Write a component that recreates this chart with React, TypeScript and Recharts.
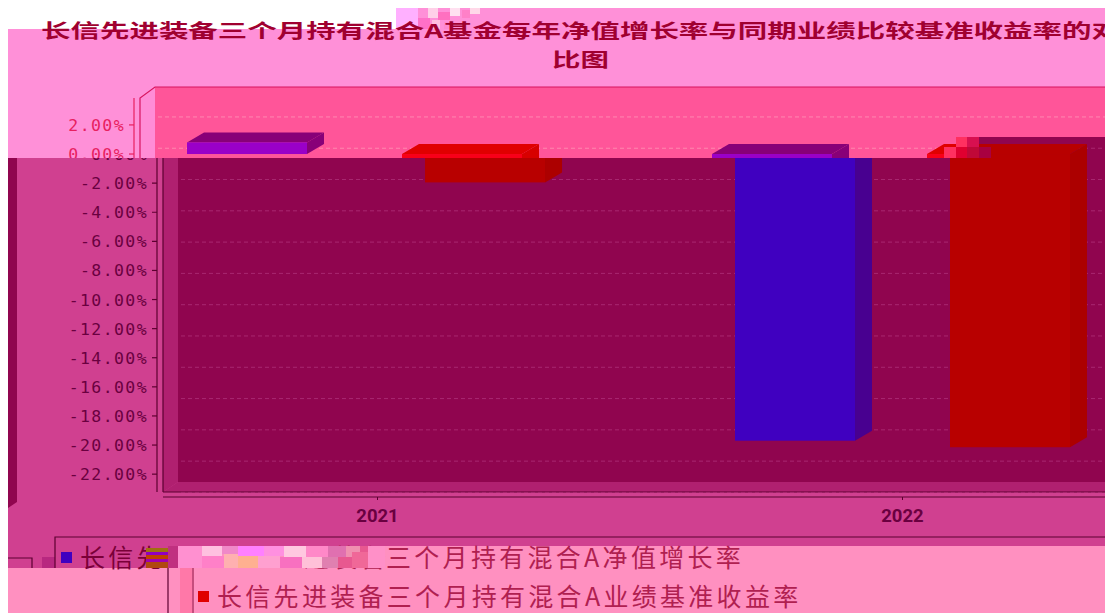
import React from 'react';
import { BarChart, Bar, XAxis, YAxis, CartesianGrid, Legend } from 'recharts';

const years = [2021, 2022];
const fundValues = [0.8, -19.7];
const benchValues = [-1.95, -20.15];
const fundName = '长信先进装备三个月持有混合A净值增长率';
const benchName = '长信先进装备三个月持有混合A业绩基准收益率';
const titleLine1 = '长信先进装备三个月持有混合A基金每年净值增长率与同期业绩比较基准收益率的对';
const titleLine2 = '比图';
const yTicks = [2, 0, -2, -4, -6, -8, -10, -12, -14, -16, -18, -20, -22];
const upperYTicks = [2, 0];
const lowerYTicks = [0, -2, -4, -6, -8, -10, -12, -14, -16, -18, -20, -22];

const data = years.map((year, i) => ({ year, fund: fundValues[i], bench: benchValues[i] }));

const CHART_W = 1160;
const CHART_H = 613;
const CJK = '"Noto Sans CJK SC", sans-serif';

const upper = {
  wall: '#ff5599', side: '#ff8cd6', floor: '#ff8cd6', edge: '#d8155f', axis: '#e8205f', label: '#e8205f', grid: '#ff88b0',
  fund: { front: '#9a00c8', top: '#880078', side: '#880078' },
  bench: { front: '#f80018', top: '#e00000', side: '#d80000' },
};
const lower = {
  wall: '#90054f', side: '#b02070', floor: '#b02070', edge: '#5c0030', axis: '#5c0030', label: '#6a0040', grid: '#a82870',
  fund: { front: '#4000c0', top: '#4000c0', side: '#480090' },
  bench: { front: '#b80000', top: '#b80000', side: '#ac0000' },
};
type Theme = typeof lower;

const Box3D = (colors: { front: string; top: string; side: string }) => (p: any) => {
  const dx = 17;
  const dy = 10;
  const x = p.x;
  const w = p.width;
  const y = Math.min(p.y, p.y + p.height);
  const h = Math.abs(p.height);
  return (
    <g>
      <polygon points={`${x},${y} ${x + dx},${y - dy} ${x + w + dx},${y - dy} ${x + w},${y}`} fill={colors.top} />
      <polygon points={`${x + w},${y} ${x + w + dx},${y - dy} ${x + w + dx},${y + h - dy} ${x + w},${y + h}`} fill={colors.side} />
      <rect x={x} y={y} width={w} height={h} fill={colors.front} />
    </g>
  );
};

const YTick = (theme: Theme) => (p: any) => {
  const v = Number(p.payload.value);
  return (
    <g>
      <line x1={152} x2={157} y1={p.y} y2={p.y} stroke={theme.axis} strokeWidth={1.2} />
      <text x={148} y={p.y + 6} textAnchor="end" fontFamily='"DejaVu Sans Mono", monospace' fontSize={16.5} letterSpacing={1.4} fill={theme.label}>
        {`${v.toFixed(2)}%`}
      </text>
    </g>
  );
};

const LegendRows = () => (
  <svg width={1105} height={613} style={{ display: 'block', overflow: 'visible' }}>
    <rect x={61} y={552} width={11} height={11} fill="#4000c0" />
    <rect x={198} y={591} width={11} height={11} fill="#e00000" />
    <text y={567} fontFamily={CJK} fontSize={25} letterSpacing={3.3}>
      <tspan x={80} fill="#7a0038">{fundName.slice(0, 3)}</tspan>
      <tspan x={304} fill="#b02050">{fundName.slice(3, 6)}</tspan>
      <tspan x={386} fill="#b02050">{fundName.slice(6)}</tspan>
    </text>
    <text x={217} y={606} fontFamily={CJK} fontSize={25} letterSpacing={3.3} fill="#b02050">{benchName}</text>
  </svg>
);

const Layer = ({ theme, left, clip, ticks, withLegend }: { theme: Theme; left: number; clip: string; ticks: number[]; withLegend?: boolean }) => (
  <div style={{ position: 'absolute', left, top: 0, width: CHART_W, height: CHART_H, clipPath: clip }}>
    <svg width={CHART_W} height={CHART_H} style={{ position: 'absolute', left: 0, top: 0 }}>
      <rect x={178} y={87} width={CHART_W} height={395} fill={theme.wall} />
      <polygon points="163,98 178,87 178,482 163,492" fill={theme.side} />
      <polygon points={`163,492 178,482 ${CHART_W},482 ${CHART_W},492`} fill={theme.floor} />
      <path d={`M163 492 V98 L178 87 H${CHART_W}`} fill="none" stroke={theme.edge} strokeWidth={1.2} />
      <line x1={163} x2={CHART_W} y1={492} y2={492} stroke={theme.edge} strokeWidth={1.2} />
      <line x1={157} x2={157} y1={98} y2={492} stroke={theme.axis} strokeWidth={1.2} />
    </svg>
    <div style={{ position: 'absolute', left: 15, top: -10, clipPath: 'inset(0 0 0 163px)' }}>
      <BarChart width={CHART_W} height={CHART_H} data={data} margin={{ top: 98, right: 20, bottom: 86, left: 103 }}>
        <CartesianGrid horizontal vertical={false} horizontalValues={yTicks} stroke={theme.grid} strokeDasharray="4 3" strokeWidth={1} />
        <XAxis hide dataKey="year" type="number" height={30} domain={[2020.5914, 2022.4524]} allowDataOverflow />
        <YAxis hide type="number" width={60} domain={[-23.57, 3.85]} ticks={yTicks} allowDataOverflow />
        <Bar dataKey="fund" isAnimationActive={false} fill="none" />
      </BarChart>
    </div>
    <div style={{ position: 'absolute', left: 0, top: 0 }}>
      <BarChart width={CHART_W} height={CHART_H} data={data} barSize={120} barGap={95} margin={{ top: 98, right: 20, bottom: 86, left: 103 }}>
        <XAxis
          dataKey="year"
          type="number"
          height={30}
          domain={[2020.5914, 2022.4524]}
          ticks={years}
          interval={0}
          allowDataOverflow
          stroke={theme.axis}
          tickSize={3}
          tickMargin={9}
          tickFormatter={(v: number) => String(v)}
          tick={withLegend ? { fill: theme.label, fontSize: 18.5, fontWeight: 700, fontFamily: 'Roboto, sans-serif' } : false}
        />
        <YAxis type="number" width={60} domain={[-23.57, 3.85]} ticks={ticks} interval={0} allowDataOverflow axisLine={false} tickLine={false} tick={YTick(theme)} />
        <Bar dataKey="fund" name={fundName} isAnimationActive={false} fill={theme.fund.front} shape={Box3D(theme.fund)} />
        <Bar dataKey="bench" name={benchName} isAnimationActive={false} fill={theme.bench.front} shape={Box3D(theme.bench)} />
        {withLegend ? (
          <Legend
            layout="horizontal"
            verticalAlign="middle"
            align="center"
            content={LegendRows}
            wrapperStyle={{ position: 'absolute', left: 0, top: 0, width: 1105, height: 613, margin: 0 }}
          />
        ) : null}
      </BarChart>
    </div>
  </div>
);

// Decorative corruption patches of the reference: [x, y, w, h, colour]
const noise: [number, number, number, number, string][] = [
  [396, 8, 22, 21, '#ffb0ff'], [418, 8, 10, 10, '#ff90d8'], [428, 8, 10, 10, '#ffd0e8'], [438, 12, 12, 8, '#ff70c0'], [450, 8, 10, 8, '#ffe0f0'],
  [462, 10, 8, 8, '#ff80c8'], [470, 8, 10, 6, '#ffd8e8'], [418, 18, 12, 11, '#ff70c8'], [432, 20, 8, 9, '#ffc0e0'], [444, 22, 8, 7, '#ff88d0'],
  [146, 548, 22, 4, '#a07010'], [146, 552, 22, 3, '#9000c0'], [146, 555, 22, 4, '#c04000'], [146, 559, 22, 3, '#a000b0'], [146, 562, 22, 6, '#b04810'],
  [168, 546, 12, 22, '#c03080'],
  [178, 546, 24, 22, '#ff90d0'], [202, 546, 20, 10, '#ffc0e0'], [222, 546, 22, 8, '#f088c8'], [202, 556, 22, 12, '#ff80c8'], [224, 554, 14, 14, '#ffb0b0'],
  [238, 546, 26, 10, '#ff80ff'], [238, 556, 20, 12, '#ffb090'], [258, 556, 22, 12, '#ffa0d0'], [264, 546, 20, 10, '#ff90e0'], [284, 546, 22, 11, '#ffc8e0'],
  [280, 557, 22, 11, '#f870c0'], [302, 557, 20, 11, '#ffc0d8'], [306, 546, 22, 11, '#ff88c8'], [322, 557, 16, 11, '#e080b0'], [328, 546, 18, 11, '#e070b0'],
  [338, 557, 14, 11, '#e85890'], [346, 546, 14, 11, '#f090b0'], [352, 552, 16, 16, '#f06898'], [360, 546, 12, 6, '#e85890'], [368, 546, 17, 22, '#ff90c8'],
  [944, 147, 12, 11, '#ff3060'], [956, 137, 11, 10, '#ff3060'], [956, 147, 11, 11, '#e00030'], [967, 137, 12, 10, '#d81050'], [967, 147, 12, 11, '#c00838'], [979, 147, 12, 11, '#a80040'],
];

export default function App() {
  return (
    <div style={{ position: 'absolute', left: 0, top: 0, width: 1105, height: 613, overflow: 'hidden', background: '#fff' }}>
      <svg width={1105} height={613} style={{ position: 'absolute', left: 0, top: 0 }}>
        <rect x={396} y={8} width={709} height={21} fill="#ff90d8" />
        <rect x={8} y={29} width={1097} height={129} fill="#ff90d8" />
        <rect x={8} y={158} width={1097} height={388} fill="#d04090" />
        <rect x={8} y={546} width={170} height={22} fill="#d04090" />
        <rect x={178} y={546} width={927} height={22} fill="#ff90c0" />
        <rect x={8} y={568} width={1097} height={45} fill="#ff90c0" />
        <polygon points="8,158 17,158 17,502 8,508" fill="#90054f" />
        <rect x={42} y={557} width={13} height={11} fill="#b82880" />
        <rect x={180} y={568} width={12} height={45} fill="#ff78a8" />
      </svg>
      <Layer theme={upper} ticks={upperYTicks} left={-23} clip="polygon(31px 29px, 1128px 29px, 1128px 158px, 31px 158px)" />
      <Layer theme={lower} ticks={lowerYTicks} left={0} withLegend clip="polygon(8px 158px, 966px 158px, 966px 137px, 1105px 137px, 1105px 613px, 8px 613px)" />
      <svg width={1105} height={613} style={{ position: 'absolute', left: 0, top: 0 }}>
        <path d="M55 568 V537 H1105" fill="none" stroke="#5c0030" strokeWidth={1.2} />
        <path d="M8 558 H32 V568" fill="none" stroke="#5c0030" strokeWidth={1.2} />
        <line x1={168} x2={168} y1={568} y2={613} stroke="#5c0030" strokeWidth={1.2} />
        <line x1={193} x2={193} y1={568} y2={613} stroke="#a02050" strokeWidth={1.2} />
        {noise.map(([x, y, w, h, c], i) => (
          <rect key={i} x={x} y={y} width={w} height={h} fill={c} />
        ))}
        <text x={41} y={38} fontFamily={CJK} fontWeight={700} fontSize={19} fill="#a00030" textLength={1080} lengthAdjust="spacingAndGlyphs">{titleLine1}</text>
        <text x={552} y={67} fontFamily={CJK} fontWeight={700} fontSize={19} fill="#a00030" textLength={57} lengthAdjust="spacingAndGlyphs">{titleLine2}</text>
      </svg>
    </div>
  );
}
